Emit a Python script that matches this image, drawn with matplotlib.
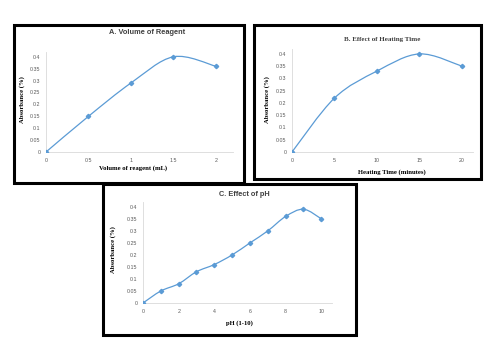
import matplotlib
matplotlib.use("Agg")
import matplotlib.pyplot as plt
from matplotlib.path import Path
from matplotlib.patches import PathPatch, Rectangle

# data
vol_x = [0, 0.5, 1, 1.5, 2]
vol_y = [0, 0.15, 0.29, 0.40, 0.36]
heat_x = [0, 5, 10, 15, 20]
heat_y = [0, 0.22, 0.33, 0.40, 0.35]
ph_x = [0, 1, 2, 3, 4, 5, 6, 7, 8, 9, 10]
ph_y = [0, 0.05, 0.08, 0.13, 0.16, 0.20, 0.25, 0.30, 0.36, 0.39, 0.35]

y_ticks = [0, 0.05, 0.1, 0.15, 0.2, 0.25, 0.3, 0.35, 0.4]
y_labels = ["0", "0.05", "0.1", "0.15", "0.2", "0.25", "0.3", "0.35", "0.4"]
vol_ticks = [0, 0.5, 1, 1.5, 2]
vol_labels = ["0", "0.5", "1", "1.5", "2"]
heat_ticks = [0, 5, 10, 15, 20]
ph_ticks = [0, 2, 4, 6, 8, 10]

W, H = 485, 343
BLUE = "#5B9BD5"
SANS = ["Liberation Sans", "DejaVu Sans"]
SERIF = ["Liberation Serif", "DejaVu Serif"]

fig = plt.figure(figsize=(W / 100, H / 100), dpi=100)
fig.patch.set_facecolor("white")


def px(x, y):
    return x / W, 1 - y / H


def smooth(ax, xs, ys):
    # excel-style smoothed line: cubic bezier through the points
    pts = list(zip(xs, ys))
    verts = [pts[0]]
    codes = [Path.MOVETO]
    n = len(pts)
    for i in range(n - 1):
        p0 = pts[max(i - 1, 0)]
        p1 = pts[i]
        p2 = pts[i + 1]
        p3 = pts[min(i + 2, n - 1)]
        c1 = (p1[0] + (p2[0] - p0[0]) / 6, p1[1] + (p2[1] - p0[1]) / 6)
        c2 = (p2[0] - (p3[0] - p1[0]) / 6, p2[1] - (p3[1] - p1[1]) / 6)
        verts += [c1, c2, p2]
        codes += [Path.CURVE4] * 3
    ax.add_patch(PathPatch(Path(verts, codes), fill=False, edgecolor=BLUE,
                           lw=0.9, zorder=3))
    ax.plot(xs, ys, ls="none", marker="D", ms=2.2, color=BLUE, zorder=4)


def panel(rect, xs, ys, xlim, xticks, xlabels=None):
    ax = fig.add_axes(rect)
    smooth(ax, xs, ys)
    ax.set_xlim(*xlim)
    ax.set_ylim(0, 0.42)
    ax.set_xticks(xticks)
    ax.set_xticklabels(xlabels if xlabels else [str(t) for t in xticks])
    ax.set_yticks(y_ticks)
    ax.set_yticklabels(y_labels)
    for s in ["top", "right"]:
        ax.spines[s].set_visible(False)
    for s in ["left", "bottom"]:
        ax.spines[s].set_color("#d9d9d9")
        ax.spines[s].set_linewidth(0.6)
    ax.tick_params(length=0, labelsize=3.8, labelcolor="#595959", pad=4)
    for t in ax.get_xticklabels() + ax.get_yticklabels():
        t.set_family(SANS)
    ax.set_facecolor("none")
    return ax


# frames
for x0, y0, x1, y1 in [(14, 25, 244, 183), (254, 25, 481, 179), (103, 184, 356, 335)]:
    fig.add_artist(Rectangle(px(x0, y1), (x1 - x0) / W, (y1 - y0) / H,
                             transform=fig.transFigure, fill=False,
                             edgecolor="black", lw=2.2))

panel([46 / W, 1 - 152 / H, 187 / W, 100 / H], vol_x, vol_y, (0, 2.2),
      vol_ticks, vol_labels)
panel([292 / W, 1 - 152 / H, 181 / W, 103 / H], heat_x, heat_y, (0, 21.3),
      heat_ticks)
panel([143 / W, 1 - 303 / H, 189 / W, 101 / H], ph_x, ph_y, (0, 10.6),
      ph_ticks)

# titles
fig.text(*px(147, 33), "A. Volume of Reagent", ha="center", va="center",
         fontsize=5.3, fontweight="bold", family=SANS, color="#404040")
fig.text(*px(382, 39), "B. Effect of Heating Time", ha="center", va="center",
         fontsize=5.0, fontweight="bold", family=SERIF, color="#404040")
fig.text(*px(244, 195), "C. Effect of pH", ha="center", va="center",
         fontsize=5.3, fontweight="bold", family=SANS, color="#404040")

# axis labels
fig.text(*px(133, 168), "Volume of reagent (mL)", ha="center", va="center",
         fontsize=4.8, fontweight="bold", family=SERIF)
fig.text(*px(392, 172), "Heating Time (minutes)", ha="center", va="center",
         fontsize=4.8, fontweight="bold", family=SERIF)
fig.text(*px(239, 323), "pH (1-10)", ha="center", va="center",
         fontsize=4.8, fontweight="bold", family=SERIF)
for x, y in [(22, 100), (267, 100), (113, 250)]:
    fig.text(*px(x, y), "Absorbance (%)", ha="center", va="center",
             rotation=90, fontsize=4.8, fontweight="bold", family=SERIF)

fig.savefig("out.png", dpi=100)
